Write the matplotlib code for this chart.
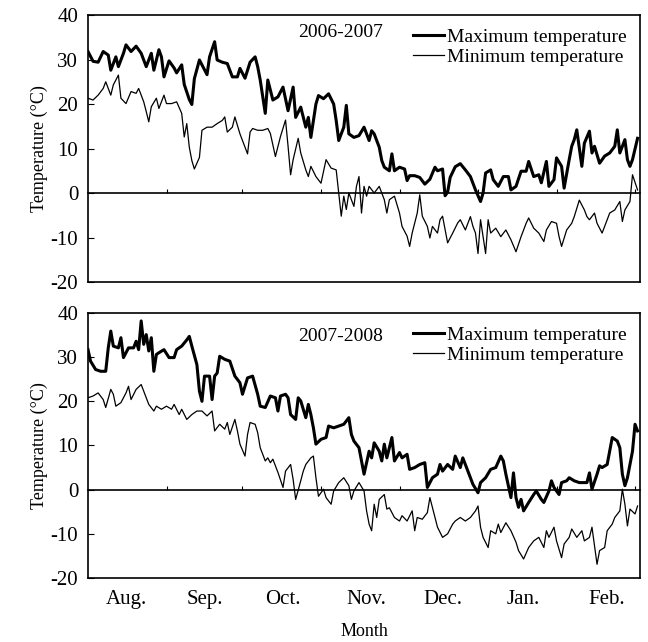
import matplotlib
matplotlib.use('Agg')
import matplotlib.pyplot as plt
import matplotlib.transforms as mtransforms

plt.rcParams['font.family'] = ['Liberation Serif', 'DejaVu Serif']
plt.rcParams['axes.unicode_minus'] = False

# day of season (0 = 1 Aug) and daily temperatures
top_max_day = [0, 2, 4, 6, 8, 9, 11, 12, 14, 15, 17, 19, 21, 23, 25, 26, 28, 29, 30, 32, 34, 35, 37, 38, 40, 41, 42, 44, 45, 47, 48, 50, 51, 53, 55, 57, 59, 60, 62, 64, 66, 67, 68, 70, 71, 73, 75, 77, 79, 81, 82, 84, 86, 87, 88, 90, 91, 93, 95, 97, 98, 99, 101, 102, 103, 105, 107, 109, 111, 112, 113, 115, 116, 117, 119, 120, 121, 123, 125, 126, 127, 129, 131, 133, 135, 137, 138, 140, 141, 142, 143, 145, 147, 149, 151, 153, 155, 156, 157, 159, 160, 162, 164, 166, 167, 169, 171, 173, 174, 176, 178, 179, 181, 182, 184, 185, 187, 188, 190, 191, 192, 193, 195, 196, 198, 199, 200, 202, 204, 206, 208, 209, 210, 212, 213, 214, 215, 217]
top_max = [31.8, 29.6, 29.4, 31.8, 31.0, 27.6, 30.6, 28.4, 31.4, 33.3, 31.8, 33.0, 31.4, 28.4, 31.4, 27.6, 32.2, 30.6, 26.1, 29.7, 28.1, 27.0, 28.8, 24.4, 21.0, 19.9, 25.7, 29.9, 28.8, 26.6, 30.6, 34.0, 29.9, 29.4, 29.1, 26.1, 26.1, 28.0, 25.8, 29.4, 30.6, 28.4, 25.4, 17.9, 25.4, 20.9, 21.6, 23.8, 18.5, 23.8, 17.0, 19.3, 14.8, 17.0, 12.5, 20.0, 21.9, 21.2, 22.3, 20.0, 16.3, 11.8, 14.8, 19.7, 13.3, 12.5, 12.9, 14.8, 11.8, 14.0, 13.3, 10.3, 7.3, 5.8, 5.0, 8.8, 5.0, 5.8, 5.4, 2.8, 3.9, 3.9, 3.5, 2.0, 3.1, 5.8, 5.0, 5.4, -0.6, 0.2, 3.5, 5.9, 6.6, 5.2, 3.7, 0.7, -1.9, 0.0, 4.5, 5.2, 3.0, 1.5, 3.7, 3.7, 0.7, 1.5, 4.9, 4.9, 7.1, 3.7, 4.1, 2.3, 7.1, 1.5, 3.0, 7.9, 6.0, 1.1, 7.5, 10.5, 12.0, 14.2, 6.0, 11.2, 13.9, 9.0, 10.5, 6.7, 8.3, 9.0, 10.5, 14.2, 9.0, 12.0, 7.5, 6.0, 7.5, 12.3]

top_min_day = [0, 2, 4, 6, 7, 9, 10, 12, 13, 15, 17, 19, 20, 22, 23, 24, 25, 27, 28, 30, 31, 33, 35, 37, 38, 39, 40, 41, 42, 44, 45, 47, 49, 51, 53, 54, 55, 57, 58, 60, 61, 63, 64, 65, 67, 69, 71, 72, 74, 76, 78, 79, 80, 81, 83, 84, 86, 87, 88, 90, 92, 94, 96, 98, 99, 100, 101, 102, 103, 105, 106, 107, 108, 109, 110, 111, 113, 115, 117, 118, 119, 121, 123, 124, 126, 127, 128, 130, 131, 132, 134, 135, 136, 138, 139, 140, 142, 144, 146, 147, 149, 151, 152, 153, 154, 155, 157, 158, 159, 161, 163, 165, 167, 169, 171, 173, 174, 176, 178, 180, 181, 183, 185, 186, 187, 189, 191, 192, 194, 196, 197, 198, 200, 201, 203, 205, 206, 208, 210, 211, 212, 214, 215, 217]
top_min = [21.3, 20.9, 22.0, 23.5, 25.0, 22.0, 24.3, 26.5, 21.3, 20.1, 22.8, 22.4, 23.5, 20.5, 18.3, 16.0, 19.4, 21.3, 19.0, 22.0, 20.1, 20.1, 20.5, 17.9, 12.6, 15.6, 10.3, 7.3, 5.4, 8.0, 14.1, 14.8, 14.8, 15.6, 16.3, 17.1, 13.7, 14.8, 17.1, 13.3, 11.8, 8.8, 13.7, 14.5, 14.1, 14.1, 14.5, 13.4, 8.2, 12.7, 16.4, 10.5, 4.1, 7.5, 12.3, 9.0, 5.2, 3.7, 6.0, 3.7, 2.2, 7.5, 5.6, 5.2, 0.0, -5.2, -0.7, -3.7, 0.0, -3.0, 1.5, 3.7, -4.5, 1.5, -0.7, 1.5, 0.0, 1.5, -1.5, -4.5, -1.5, -0.7, -4.5, -7.5, -9.7, -12.0, -9.0, -4.5, -0.4, -5.2, -7.5, -10.1, -7.5, -9.0, -6.0, -5.2, -11.2, -9.0, -6.7, -6.0, -8.3, -5.3, -7.5, -9.0, -13.6, -6.0, -13.6, -6.0, -9.0, -7.9, -9.8, -8.3, -10.5, -13.2, -9.8, -6.8, -5.6, -7.9, -9.0, -10.9, -8.3, -6.4, -6.8, -9.8, -12.0, -8.3, -6.8, -5.3, -1.6, -3.8, -5.3, -6.0, -4.5, -6.8, -9.0, -6.0, -4.5, -3.8, -1.9, -6.4, -3.8, -1.9, 4.1, 0.7]

bot_max_day = [0, 1, 3, 5, 7, 8, 9, 10, 12, 13, 14, 16, 18, 19, 20, 21, 22, 23, 24, 25, 26, 27, 28, 30, 32, 34, 35, 37, 39, 40, 41, 43, 44, 45, 46, 48, 49, 50, 51, 52, 54, 56, 58, 60, 61, 63, 65, 67, 68, 70, 72, 74, 75, 76, 78, 79, 80, 82, 83, 84, 86, 87, 88, 89, 90, 92, 94, 95, 97, 99, 101, 103, 104, 105, 107, 108, 109, 111, 112, 113, 115, 116, 117, 118, 120, 121, 123, 124, 126, 127, 129, 131, 133, 134, 136, 138, 139, 140, 142, 144, 145, 147, 148, 150, 152, 154, 155, 157, 159, 161, 163, 164, 165, 167, 168, 169, 170, 171, 172, 174, 176, 177, 179, 180, 182, 183, 184, 186, 187, 189, 190, 192, 194, 197, 198, 199, 201, 202, 203, 205, 206, 207, 209, 210, 211, 212, 213, 215, 216, 217]
bot_max = [31.7, 29.1, 27.2, 26.8, 26.8, 32.1, 35.9, 32.5, 32.1, 34.4, 29.9, 32.1, 32.1, 33.6, 31.7, 38.2, 32.9, 35.1, 31.4, 34.4, 26.8, 30.6, 31.0, 31.7, 29.9, 29.9, 31.7, 32.5, 33.9, 34.7, 32.5, 28.3, 22.3, 20.0, 25.7, 25.7, 20.4, 25.7, 26.4, 30.2, 29.5, 29.1, 25.7, 24.2, 21.6, 25.3, 25.7, 21.6, 18.9, 18.6, 21.2, 20.8, 17.8, 21.2, 21.6, 20.8, 17.0, 15.9, 20.8, 20.1, 16.3, 19.3, 17.0, 14.0, 10.3, 11.4, 11.8, 14.4, 14.0, 14.4, 14.8, 16.3, 12.5, 11.0, 9.5, 6.5, 3.5, 8.7, 7.2, 10.6, 8.7, 6.5, 10.3, 7.2, 11.8, 6.5, 8.4, 7.2, 8.0, 4.6, 5.0, 5.7, 6.1, 0.5, 2.7, 3.5, 5.7, 4.2, 5.7, 4.6, 7.6, 5.0, 7.2, 4.2, 1.2, -0.7, 1.6, 2.7, 4.6, 5.0, 7.6, 6.5, 3.5, -1.8, 3.8, -1.8, -4.0, -2.2, -4.8, -2.9, -1.1, -0.3, -2.2, -2.9, -0.3, 2.0, 0.5, -1.1, 1.6, 2.0, 2.7, 2.0, 1.6, 1.6, 3.8, 0.1, 3.5, 5.4, 5.0, 5.7, 8.7, 11.8, 11.0, 9.5, 3.5, 0.9, 2.7, 8.7, 14.8, 13.3]

bot_min_day = [0, 2, 4, 6, 7, 9, 10, 11, 13, 15, 16, 17, 19, 21, 23, 24, 26, 27, 29, 31, 33, 34, 36, 37, 39, 41, 43, 45, 47, 49, 50, 52, 54, 55, 56, 58, 59, 60, 62, 63, 64, 66, 67, 68, 70, 71, 72, 73, 75, 77, 78, 80, 81, 82, 84, 85, 86, 88, 89, 90, 91, 93, 94, 96, 97, 99, 101, 103, 104, 105, 107, 109, 110, 111, 112, 113, 114, 115, 117, 118, 119, 121, 123, 124, 126, 128, 129, 130, 132, 134, 135, 137, 138, 140, 142, 144, 145, 147, 149, 151, 153, 154, 155, 156, 158, 159, 161, 162, 163, 165, 167, 169, 170, 172, 174, 176, 178, 180, 181, 182, 184, 185, 187, 188, 190, 191, 193, 195, 196, 198, 199, 201, 202, 204, 205, 207, 208, 210, 211, 212, 213, 214, 216, 217]
bot_min = [20.8, 21.2, 21.9, 20.4, 18.6, 22.7, 21.6, 18.9, 19.7, 21.9, 23.4, 20.4, 22.7, 23.8, 20.8, 19.3, 17.8, 18.9, 18.2, 18.9, 18.2, 19.3, 17.0, 18.2, 15.9, 17.0, 17.8, 17.8, 16.7, 17.8, 13.3, 14.8, 13.7, 15.2, 12.5, 15.9, 13.3, 10.3, 7.6, 12.5, 15.2, 14.8, 12.9, 9.5, 6.5, 7.2, 6.1, 6.9, 3.9, 0.5, 4.2, 5.7, 2.3, -2.2, 2.0, 4.2, 5.7, 7.2, 7.6, 2.7, -1.5, 0.1, -1.8, -3.3, -0.3, 1.6, 2.7, 0.9, -2.2, -0.3, 1.6, -0.3, -4.8, -7.8, -9.3, -3.3, -6.3, -2.2, -1.1, -4.4, -4.1, -6.3, -7.1, -5.9, -7.1, -4.8, -9.3, -6.3, -6.7, -5.2, -1.8, -6.3, -8.5, -10.8, -10.0, -7.8, -7.1, -6.3, -7.1, -6.3, -4.8, -3.7, -8.5, -10.8, -13.1, -9.3, -10.0, -7.8, -9.7, -7.5, -9.3, -11.9, -13.8, -15.7, -13.1, -11.6, -10.8, -13.1, -9.3, -10.8, -8.5, -11.6, -15.4, -12.3, -10.8, -8.9, -10.8, -9.3, -11.6, -10.8, -8.5, -16.9, -13.8, -13.1, -9.3, -7.8, -6.3, -4.8, 0.1, -3.3, -8.2, -4.4, -5.5, -3.7]

month_edges = [31, 61, 92, 123, 154, 185, 216]
month_labels = ['Aug.', 'Sep.', 'Oct.', 'Nov.', 'Dec.', 'Jan.', 'Feb.']
month_label_pos = [15, 46, 77, 110, 140, 172, 205]

fig = plt.figure(figsize=(6.48, 6.42), dpi=100)
ax1 = fig.add_axes([0.1358, 0.5607, 0.852, 0.4159])
ax2 = fig.add_axes([0.1358, 0.0997, 0.852, 0.4128])

panels = [
    (ax1, top_max_day, top_max, top_min_day, top_min, '2006-2007', 0.933),
    (ax2, bot_max_day, bot_max, bot_min_day, bot_min, '2007-2008', 0.912),
]

for ax, dmax, vmax, dmin, vmin, season, ty in panels:
    ax.plot(dmax, vmax, color='black', lw=2.2, label='Maximum temperature')
    ax.plot(dmin, vmin, color='black', lw=0.9, label='Minimum temperature')
    ax.set_xlim(0, 218)
    ax.set_ylim(-20, 40)
    ax.set_yticks([-20, -10, 0, 10, 20, 30, 40])
    ax.tick_params(axis='y', direction='in', length=4, labelsize=15, pad=7)
    # x axis sits on the zero line, ticks pointing up
    ax.spines['bottom'].set_position(('data', 0))
    ax.spines['bottom'].set_linewidth(1.2)
    ax.set_xticks(month_edges)
    ax.tick_params(axis='x', direction='in', length=3, labelbottom=False)
    ax.plot([0, 1], [0, 0], transform=ax.transAxes, color='black', lw=1.2, clip_on=False)
    for s in ['left', 'right', 'top']:
        ax.spines[s].set_linewidth(1.2)
    ax.set_ylabel('Temperature (°C)', fontsize=13, labelpad=2)
    ax.text(0.457, ty, season, transform=ax.transAxes, ha='center', va='center', fontsize=14)
    ax.legend(loc='upper right', bbox_to_anchor=(1.0, 1.0), frameon=False, fontsize=14,
              handlelength=1.6, handletextpad=0.15, labelspacing=0.1, borderaxespad=0.3)

trans = mtransforms.blended_transform_factory(ax2.transData, ax2.transAxes)
for pos, lab in zip(month_label_pos, month_labels):
    ax2.text(pos, -0.08, lab, transform=trans, ha='center', va='center', fontsize=15)
fig.text(0.563, 0.016, 'Month', ha='center', va='center', fontsize=13)

fig.savefig('out.png', dpi=100)
